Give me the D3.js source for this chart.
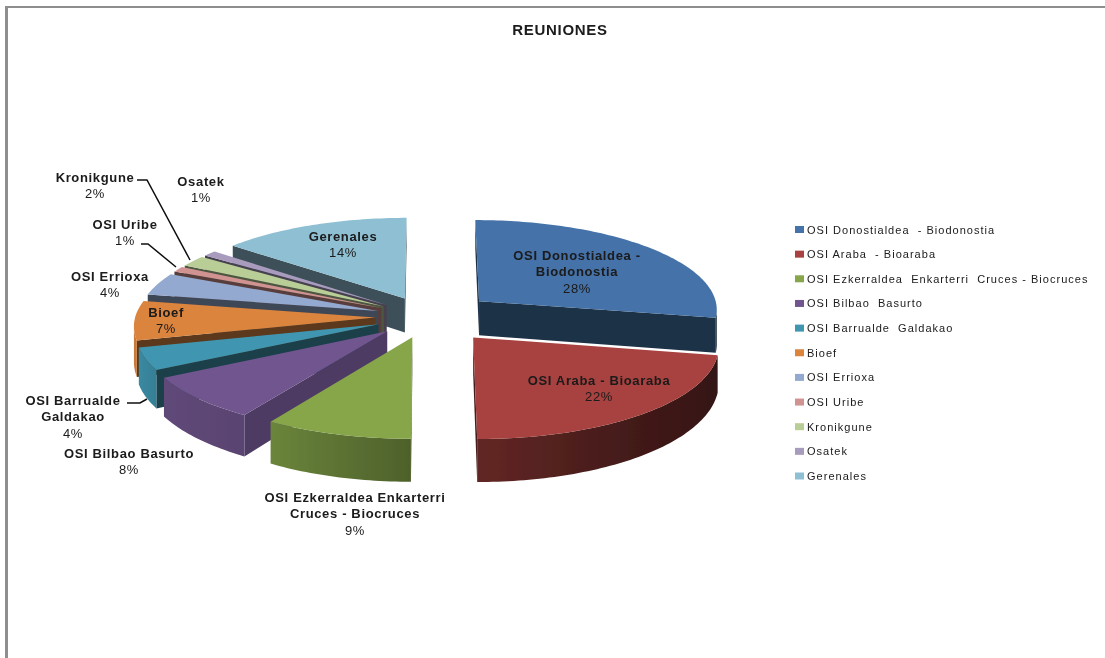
<!DOCTYPE html>
<html><head><meta charset="utf-8">
<script src="https://d3js.org/d3.v7.min.js"></script>
<style>
html,body{margin:0;padding:0;background:#fff}
svg{display:block}
text{font-family:"Liberation Sans",Arial,sans-serif;fill:#1a1a1a;white-space:pre}
</style></head><body>
<div id="chart"></div>
<script>
// ---- data ----
const title = "REUNIONES";
const categories = ["OSI Donostialdea - Biodonostia","OSI Araba - Bioaraba","OSI Ezkerraldea Enkarterri Cruces - Biocruces","OSI Bilbao Basurto","OSI Barrualde Galdakao","Bioef","OSI Errioxa","OSI Uribe","Kronikgune","Osatek","Gerenales"];
const legendLabels = ["OSI Donostialdea  - Biodonostia","OSI Araba  - Bioaraba","OSI Ezkerraldea  Enkarterri  Cruces - Biocruces","OSI Bilbao  Basurto","OSI Barrualde  Galdakao","Bioef","OSI Errioxa","OSI Uribe","Kronikgune","Osatek","Gerenales"];
const values = [28,22,9,8,4,7,4,1,2,1,14];
const labelLines = [["OSI Donostialdea -","Biodonostia"],["OSI Araba - Bioaraba"],["OSI Ezkerraldea Enkarterri","Cruces - Biocruces"],["OSI Bilbao Basurto"],["OSI Barrualde","Galdakao"],["Bioef"],["OSI Errioxa"],["OSI Uribe"],["Kronikgune"],["Osatek"],["Gerenales"]];

// ---- styles and layout ----
const colors = ["#4472a8","#a8423f","#86a64a","#70558e","#3f96b0","#db843d","#93a9cf","#d19392","#b9cd96","#a99bbd","#8fbfd3"];
const explosion = [.28,.29,.23,.23,.22,.22,.22,.22,.22,.22,.23];
const paintOrder = [10,9,8,7,6,5,4,3,2,0,1];
const labelAnchor = [[577,256],[599,381],[355,498],[129,454],[73,401],[166,313],[110,277],[125,225],[95,178],[201,182],[343,237]];
const leaders = [
  {i:8, pts:[[137,180],[147,180],[190,260]], w:1.5},
  {i:9, pts:[[205,204],[205,253]], w:2.2},
  {i:7, pts:[[141,244],[148,244],[176,267]], w:1.5},
  {i:4, pts:[[127,403],[140,403],[147,399]], w:1.5}
];
const W = 1105, H = 658, cx = 428, cy = 317, rx = 240, ry = 90, persp = .08, depth = 35;

const svg = d3.select("#chart").append("svg").attr("width",W).attr("height",H);
const defs = svg.append("defs");
defs.append("filter").attr("id","soft").append("feGaussianBlur").attr("stdDeviation",.55);
defs.append("filter").attr("id","softT").append("feGaussianBlur").attr("stdDeviation",.4);

// frame
svg.append("rect").attr("x",5).attr("y",6).attr("width",W-5).attr("height",2).attr("fill","#8e8e8e");
svg.append("rect").attr("x",5).attr("y",6).attr("width",3).attr("height",H-6).attr("fill","#8e8e8e");

svg.append("text").attr("x",560).attr("y",35).attr("text-anchor","middle")
  .attr("font-size",15).attr("letter-spacing",.7).attr("font-weight","bold").attr("filter","url(#softT)").text(title);

// projection: pie plane (u to the right, v away from viewer, radius 1) to screen
const project = (u,v,h) => {
  const s = 1/(1+persp*v);
  return [cx + rx*u*s, cy - ry*v*s + h*depth*s*s];
};
const pie = d3.pie().value(d=>d).sort(null);
const arcs = pie(values);
const rimShade = d3.scaleLinear().domain([100,140,180,212,241,255]).range([.3,.38,.58,.8,.85,.92]).clamp(true);
const shade = (c,k) => { const r = d3.rgb(c); return d3.rgb(r.r*k,r.g*k,r.b*k).formatHex(); };
const line = d3.line();
const g = svg.append("g").attr("filter","url(#soft)");

paintOrder.forEach(i => {
  const a = arcs[i], mid = (a.startAngle+a.endAngle)/2, e = explosion[i];
  const ou = Math.sin(mid)*e, ov = Math.cos(mid)*e;
  const P = (t,r,h) => project(ou+Math.sin(t)*r, ov+Math.cos(t)*r, h);
  const base = colors[i];
  const sl = g.append("g").attr("class","slice");
  // cut faces
  [[a.startAngle,-1],[a.endAngle,1]].forEach(([t,side]) => {
    const ap = P(t,0,0), rm = P(t,1,0);
    if ((rm[0]-ap[0])*side > 0) {
      const deg = t*180/Math.PI;
      const k = (deg>200 && deg<225) ? .7 : .42;
      sl.append("path").attr("d",line([ap,rm,P(t,1,1),P(t,0,1)])+"Z").attr("fill",shade(base,k));
    }
  });
  // rim: one polygon of the camera-facing part, shaded by a horizontal gradient
  const n = Math.max(4,Math.ceil((a.endAngle-a.startAngle)/.02));
  const ts = d3.range(n+1).map(j => a.startAngle+(a.endAngle-a.startAngle)*j/n);
  const vis = ts.filter((t,j) => {
    const t2 = ts[Math.min(j+1,n)], t0 = ts[Math.max(j-1,0)];
    return P(t2,1,0)[0] < P(t0,1,0)[0];
  });
  if (vis.length > 1) {
    const xs = vis.map(t=>P(t,1,0)[0]);
    const x0 = d3.min(xs), x1 = d3.max(xs);
    const id = "rim"+i;
    const grad = defs.append("linearGradient").attr("id",id).attr("gradientUnits","userSpaceOnUse")
      .attr("x1",x0).attr("x2",x1).attr("y1",0).attr("y2",0);
    vis.slice().reverse().forEach((t,j) => {
      if (j%4===0 || j===vis.length-1) {
        const x = P(t,1,0)[0];
        grad.append("stop").attr("offset",x1>x0?(x-x0)/(x1-x0):0).attr("stop-color",shade(base,rimShade(t*180/Math.PI)));
      }
    });
    sl.append("path").attr("d",line([...vis.map(t=>P(t,1,0)),...vis.slice().reverse().map(t=>P(t,1,1))])+"Z")
      .attr("fill","url(#"+id+")");
  }
  // top
  sl.append("path").attr("d",line([P(0,0,0),...ts.map(t=>P(t,1,0))])+"Z").attr("fill",base);
});

// leader lines
svg.append("g").selectAll("path").data(leaders).join("path")
  .attr("d",d=>line(d.pts)).attr("fill","none").attr("stroke","#111").attr("stroke-width",d=>d.w).attr("filter","url(#softT)");

// data labels
const lh = 16.3;
const lab = svg.append("g").attr("font-size",13).attr("text-anchor","middle").attr("filter","url(#softT)").attr("letter-spacing",.65);
categories.forEach((c,i) => {
  const lines = [...labelLines[i], values[i]+"%"];
  const t = lab.append("text");
  lines.forEach((ln,j) => {
    t.append("tspan").attr("x",labelAnchor[i][0]).attr("y",labelAnchor[i][1]+j*lh+4)
      .attr("font-weight", j<lines.length-1 ? "bold":"normal").text(ln);
  });
});

// legend
const legendY = d3.scalePoint().domain(d3.range(categories.length)).range([229.5,476]);
const leg = svg.append("g").attr("filter","url(#softT)");
legendLabels.forEach((l,i) => {
  leg.append("rect").attr("x",795).attr("y",legendY(i)-3.5).attr("width",9).attr("height",7).attr("fill",colors[i]);
  leg.append("text").attr("x",807).attr("y",legendY(i)+4).attr("font-size",11).attr("letter-spacing",1.02).text(l);
});
</script>
</body></html>
